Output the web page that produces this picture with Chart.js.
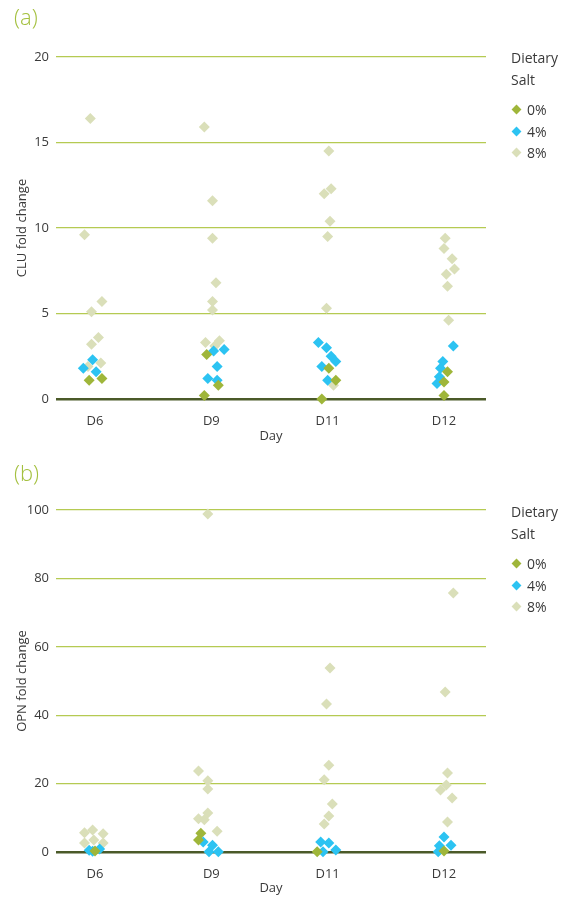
<!DOCTYPE html>
<html>
<head>
<meta charset="utf-8">
<script src="https://cdn.jsdelivr.net/npm/chart.js@4/dist/chart.umd.min.js"></script>
<style>
  body { margin: 0; background: #fff; font-family: 'Open Sans', sans-serif; }
  #wrap { position: relative; width: 569px; height: 899px; }
  .panel { position: absolute; left: 0; width: 569px; }
  .tag { position: absolute; left: 14px; font-size: 22px; color: #a4c03f; font-weight: 300; }
  .legend { position: absolute; left: 511px; font-size: 14px; color: #3a3a3a; line-height: 22px; }
  .legend .item { position: relative; padding-left: 16px; height: 21.5px; line-height: 21.5px; }
  .legend .dia { position: absolute; left: 2px; top: 7px; width: 7px; height: 7px; transform: rotate(45deg); }
</style>
</head>
<body>
<div id="wrap">
  <div class="panel" style="top:0;height:450px"><canvas id="clu" width="569" height="450"></canvas></div>
  <div class="panel" style="top:450px;height:449px"><canvas id="opn" width="569" height="449"></canvas></div>
  <div class="tag" style="top:1px">(a)</div>
  <div class="tag" style="top:457px">(b)</div>
  <div class="legend" id="legA" style="top:47px"></div>
  <div class="legend" id="legB" style="top:501px"></div>
</div>
<script>
var days = ['D6', 'D9', 'D11', 'D12']
var seriesNames = ['0%', '4%', '8%']
var seriesColours = ['#9fb63a', '#2cc3f2', '#dadfb9']

// CLU fold change, one list per day (D6, D9, D11, D12)
var clu0 = [[1.1, 1.2], [2.6, 0.8, 0.2], [1.8, 1.1, 0.0], [1.6, 1.0, 0.2]]
var clu4 = [[2.3, 1.8, 1.6], [2.8, 2.9, 1.9, 1.2, 1.1], [3.3, 3.0, 2.5, 2.2, 1.9, 1.1], [3.1, 2.2, 1.8, 1.3, 0.9]]
var clu8 = [[16.4, 9.6, 5.7, 5.1, 3.6, 3.2, 2.1, 1.9], [15.9, 11.6, 9.4, 6.8, 5.7, 5.2, 3.3, 3.4, 3.1], [14.5, 12.3, 12.0, 10.4, 9.5, 5.3, 0.8], [21.2, 9.4, 8.8, 8.2, 7.6, 7.3, 6.6, 4.6]]
// horizontal jitter of each point
var cluJit0 = [[-0.05, 0.06], [-0.04, 0.06, -0.06], [0.01, 0.07, -0.05], [0.03, 0.0, 0.0]]
var cluJit4 = [[-0.02, -0.1, 0.01], [0.02, 0.11, 0.05, -0.03, 0.05], [-0.08, -0.01, 0.03, 0.07, -0.05, 0.0], [0.08, -0.01, -0.03, -0.04, -0.06]]
var cluJit8 = [[-0.04, -0.09, 0.06, -0.03, 0.03, -0.03, 0.05, -0.06], [-0.06, 0.01, 0.01, 0.04, 0.01, 0.01, -0.05, 0.07, 0.03], [0.01, 0.03, -0.03, 0.02, 0.0, -0.01, 0.05], [0.06, 0.01, 0.0, 0.07, 0.09, 0.02, 0.03, 0.04]]

// OPN fold change
var opn0 = [[0.3], [5.5, 3.5], [0.1], [0.3]]
var opn4 = [[0.9, 0.2, 0.5], [2.9, 2.0, 0.1, 0.1], [2.9, 2.6, 0.6, 0.1], [4.4, 2.0, 1.8, 0.1]]
var opn8 = [[6.4, 5.6, 5.3, 3.5, 2.6, 2.6], [98.8, 23.7, 20.8, 18.4, 11.4, 9.7, 9.4, 6.1], [53.8, 43.3, 25.4, 21.1, 14.0, 10.5, 8.2], [75.7, 46.8, 23.1, 19.6, 18.1, 15.8, 8.8]]
var opnJit0 = [[0.0], [-0.09, -0.11], [-0.09], [0.0]]
var opnJit4 = [[0.04, -0.02, -0.05], [-0.07, 0.01, -0.02, 0.06], [-0.06, 0.01, 0.07, -0.04], [0.0, 0.06, -0.04, -0.05]]
var opnJit8 = [[-0.02, -0.09, 0.07, -0.01, -0.09, 0.07], [-0.03, -0.11, -0.03, -0.03, -0.03, -0.11, -0.06, 0.05], [0.02, -0.01, 0.01, -0.03, 0.04, 0.01, -0.03], [0.08, 0.01, 0.03, 0.02, -0.03, 0.07, 0.03]]

var cluTicks = [0, 5, 10, 15, 20]
var opnTicks = [0, 20, 40, 60, 80, 100]

var FONT = "'Open Sans', sans-serif"

function toPoints (vals, jit) {
  var pts = []
  for (var d = 0; d < vals.length; d++) {
    for (var i = 0; i < vals[d].length; i++) {
      pts.push({ x: d + jit[d][i], y: vals[d][i] })
    }
  }
  return pts
}

function makeChart (id, valueSets, jitSets, yTicks, yTitle, padTop, axisH, titlePadBottom) {
  var datasets = []
  for (var s = 0; s < seriesNames.length; s++) {
    datasets.push({
      label: seriesNames[s],
      data: toPoints(valueSets[s], jitSets[s]),
      backgroundColor: seriesColours[s],
      borderWidth: 0,
      pointStyle: 'rectRot',
      pointRadius: 5.5,
      clip: false
    })
  }
  return new Chart(document.getElementById(id), {
    type: 'scatter',
    data: { datasets: datasets },
    options: {
      responsive: false,
      animation: false,
      devicePixelRatio: 1,
      layout: { padding: { top: padTop, right: 83, left: 0, bottom: 0 } },
      plugins: { legend: { display: false }, tooltip: { enabled: false } },
      scales: {
        x: {
          type: 'linear',
          min: -0.335,
          max: 3.361,
          afterBuildTicks: function (sc) { sc.ticks = days.map(function (d, i) { return { value: i } }) },
          afterFit: function (sc) { sc.height = axisH },
          ticks: {
            padding: 6,
            color: '#3a3a3a',
            font: { family: FONT, size: 13 },
            callback: function (v) { return days[v] }
          },
          grid: { display: false },
          border: { display: false },
          title: { display: true, text: 'Day', color: '#3a3a3a', font: { family: FONT, size: 13 }, padding: { top: 4, bottom: titlePadBottom } }
        },
        y: {
          min: yTicks[0],
          max: yTicks[yTicks.length - 1],
          afterBuildTicks: function (sc) { sc.ticks = yTicks.map(function (v) { return { value: v } }) },
          afterFit: function (sc) { sc.width = 56 },
          ticks: { padding: 7, color: '#3a3a3a', font: { family: FONT, size: 13 } },
          grid: {
            drawTicks: false,
            color: function (c) { return c.tick && c.tick.value === 0 ? '#4b5a29' : '#b5ca52' },
            lineWidth: function (c) { return c.tick && c.tick.value === 0 ? 2.5 : 1.2 }
          },
          border: { display: false },
          title: { display: true, text: yTitle, color: '#3a3a3a', font: { family: FONT, size: 13 }, padding: { top: 14 } }
        }
      }
    }
  })
}

function buildLegend (id) {
  var html = '<div>Dietary</div><div style="margin-bottom:8px">Salt</div>'
  for (var s = 0; s < seriesNames.length; s++) {
    html += '<div class="item"><span class="dia" style="background:' + seriesColours[s] + '"></span>' + seriesNames[s] + '</div>'
  }
  document.getElementById(id).innerHTML = html
}

makeChart('clu', [clu0, clu4, clu8], [cluJit0, cluJit4, cluJit8], cluTicks, 'CLU fold change', 57, 51, 6)
makeChart('opn', [opn0, opn4, opn8], [opnJit0, opnJit4, opnJit8], opnTicks, 'OPN fold change', 60, 47, 3)
buildLegend('legA')
buildLegend('legB')
</script>
</body>
</html>
